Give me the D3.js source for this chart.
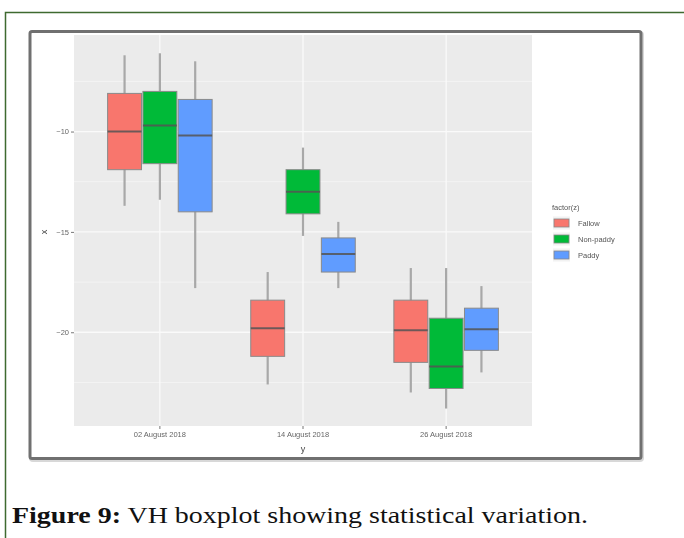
<!DOCTYPE html>
<meta charset="utf-8">
<style>
body {
  margin: 0;
  background: #fff;
}
</style>
<svg width="684" height="538"></svg>
<script src="https://d3js.org/d3.v7.min.js"></script>
<script>
// data (VH backscatter, dB)
var dates = ["02 August 2018", "14 August 2018", "26 August 2018"];
var groups = ["Fallow", "Non-paddy", "Paddy"];
var yTicks = [-10, -15, -20];
// [whisker low, q1, median, q3, whisker high] per date
var fallow   = [[-13.7, -11.9, -10.0, -8.1, -6.2], [-22.6, -21.2, -19.8, -18.4, -17.0], [-23.0, -21.5, -19.9, -18.4, -16.8]];
var nonpaddy = [[-13.4, -11.6, -9.7, -8.0, -6.1], [-15.2, -14.1, -13.0, -11.9, -10.8], [-23.8, -22.8, -21.7, -19.3, -16.8]];
var paddy    = [[-17.8, -14.0, -10.2, -8.4, -6.5], [-17.8, -17.0, -16.1, -15.3, -14.5], [-22.0, -20.9, -19.85, -18.8, -17.7]];
var colors = ["#F8766D", "#00BA38", "#619CFF"];

var svg = d3.select("svg");

// outer page frame (green)
svg.append("path")
    .attr("d", "M5.5,538 V12.5 H684")
    .attr("fill", "none")
    .attr("stroke", "#3f6a30")
    .attr("stroke-width", 1.5);

// blur filter to mimic the soft look of the figure
var defs = svg.append("defs");
defs.append("filter").attr("id", "soft")
  .append("feGaussianBlur").attr("stdDeviation", 0.55);

// figure frame
svg.append("rect")
    .attr("x", 31).attr("y", 33)
    .attr("width", 611).attr("height", 427)
    .attr("rx", 2)
    .attr("fill", "none")
    .attr("stroke", "#d8d8d8")
    .attr("stroke-width", 4);
svg.append("rect")
    .attr("x", 30).attr("y", 31.5)
    .attr("width", 611).attr("height", 427)
    .attr("rx", 2)
    .attr("fill", "#fff")
    .attr("stroke", "#707070")
    .attr("stroke-width", 3);

var g = svg.append("g").attr("filter", "url(#soft)");

var panel = {left: 74, top: 35, right: 532, bottom: 426};

var x = d3.scaleBand()
    .domain(dates)
    .range([panel.left, panel.right])
    .paddingInner(0)
    .paddingOuter(0.1);

var xg = d3.scaleBand()
    .domain(groups)
    .range([-0.375 * x.step(), 0.375 * x.step()])
    .padding(0.04);

var y = d3.scaleLinear()
    .domain([-24.67, -5.19])
    .range([panel.bottom, panel.top]);

var z = d3.scaleOrdinal().domain(groups).range(colors);

// panel background
g.append("rect")
    .attr("x", panel.left).attr("y", panel.top)
    .attr("width", panel.right - panel.left)
    .attr("height", panel.bottom - panel.top)
    .attr("fill", "#ebebeb");

// minor grid
var minor = yTicks.map(function(d) { return d + 2.5; }).concat([-22.5]);
g.append("g").selectAll("line")
  .data(minor)
  .enter().append("line")
    .attr("x1", panel.left).attr("x2", panel.right)
    .attr("y1", function(d) { return y(d); })
    .attr("y2", function(d) { return y(d); })
    .attr("stroke", "#f6f6f6")
    .attr("stroke-width", 0.8);

// major grid
g.append("g").selectAll("line")
  .data(yTicks)
  .enter().append("line")
    .attr("x1", panel.left).attr("x2", panel.right)
    .attr("y1", function(d) { return y(d); })
    .attr("y2", function(d) { return y(d); })
    .attr("stroke", "#fafafa")
    .attr("stroke-width", 1.3);
g.append("g").selectAll("line")
  .data(dates)
  .enter().append("line")
    .attr("y1", panel.top).attr("y2", panel.bottom)
    .attr("x1", function(d) { return x(d) + x.bandwidth() / 2; })
    .attr("x2", function(d) { return x(d) + x.bandwidth() / 2; })
    .attr("stroke", "#fafafa")
    .attr("stroke-width", 1.3);

// boxes
var series = [fallow, nonpaddy, paddy];
var boxes = [];
series.forEach(function(s, gi) {
  s.forEach(function(v, di) {
    boxes.push({date: dates[di], group: groups[gi], v: v});
  });
});

var bw = xg.bandwidth();
var box = g.append("g").selectAll("g")
  .data(boxes)
  .enter().append("g")
    .attr("transform", function(d) {
      return "translate(" + (x(d.date) + x.bandwidth() / 2 + xg(d.group)) + ",0)";
    });

box.append("line")
    .attr("x1", bw / 2).attr("x2", bw / 2)
    .attr("y1", function(d) { return y(d.v[0]); })
    .attr("y2", function(d) { return y(d.v[4]); })
    .attr("stroke", "#a8a8a8")
    .attr("stroke-width", 2.2);

box.append("rect")
    .attr("x", 0)
    .attr("width", bw)
    .attr("y", function(d) { return y(d.v[3]); })
    .attr("height", function(d) { return y(d.v[1]) - y(d.v[3]); })
    .attr("fill", function(d) { return z(d.group); })
    .attr("stroke", "#8a8a8a")
    .attr("stroke-width", 1);

box.append("line")
    .attr("x1", 0).attr("x2", bw)
    .attr("y1", function(d) { return y(d.v[2]); })
    .attr("y2", function(d) { return y(d.v[2]); })
    .attr("stroke", "#555")
    .attr("stroke-opacity", 0.85)
    .attr("stroke-width", 2);

// axes
var yAxis = g.append("g")
    .attr("transform", "translate(" + panel.left + ",0)")
    .call(d3.axisLeft(y).tickValues(yTicks).tickSize(3).tickPadding(2));
var xAxis = g.append("g")
    .attr("transform", "translate(0," + panel.bottom + ")")
    .call(d3.axisBottom(x).tickSize(3).tickPadding(3));
[yAxis, xAxis].forEach(function(a) {
  a.select(".domain").remove();
  a.selectAll(".tick line").attr("stroke", "#777");
  a.selectAll(".tick text")
    .attr("fill", "#666")
    .attr("font-family", "Liberation Sans, sans-serif")
    .attr("font-size", 7.5);
});

g.append("text")
    .attr("x", (panel.left + panel.right) / 2)
    .attr("y", 452)
    .attr("text-anchor", "middle")
    .attr("font-family", "Liberation Sans, sans-serif")
    .attr("font-size", 9)
    .attr("fill", "#444")
    .text("y");

g.append("text")
    .attr("transform", "translate(47,232) rotate(-90)")
    .attr("text-anchor", "middle")
    .attr("font-family", "Liberation Sans, sans-serif")
    .attr("font-size", 9)
    .attr("fill", "#444")
    .text("x");

// legend
var legend = g.append("g")
    .attr("font-family", "Liberation Sans, sans-serif")
    .attr("font-size", 7.5)
    .attr("fill", "#555");
legend.append("text")
    .attr("x", 552).attr("y", 209.5)
    .text("factor(z)");
var item = legend.selectAll("g")
  .data(groups)
  .enter().append("g")
    .attr("transform", function(d, i) { return "translate(553," + (216.5 + i * 16) + ")"; });
item.append("rect")
    .attr("width", 17).attr("height", 13)
    .attr("fill", "#f2f2f2");
item.append("rect")
    .attr("x", 1).attr("y", 2.5)
    .attr("width", 15).attr("height", 8)
    .attr("fill", z)
    .attr("stroke", "#888")
    .attr("stroke-width", 0.8);
item.append("text")
    .attr("x", 25).attr("y", 6.5)
    .attr("dy", "0.35em")
    .text(function(d) { return d; });

// caption
var cap = svg.append("text")
    .attr("x", 12).attr("y", 523)
    .attr("font-family", "Liberation Serif, serif")
    .attr("font-size", 22.5)
    .attr("fill", "#111");
cap.append("tspan").attr("font-weight", "bold").text("Figure 9:");
cap.append("tspan").text(" VH boxplot showing statistical variation.");
cap.attr("textLength", 576).attr("lengthAdjust", "spacingAndGlyphs");
</script>
